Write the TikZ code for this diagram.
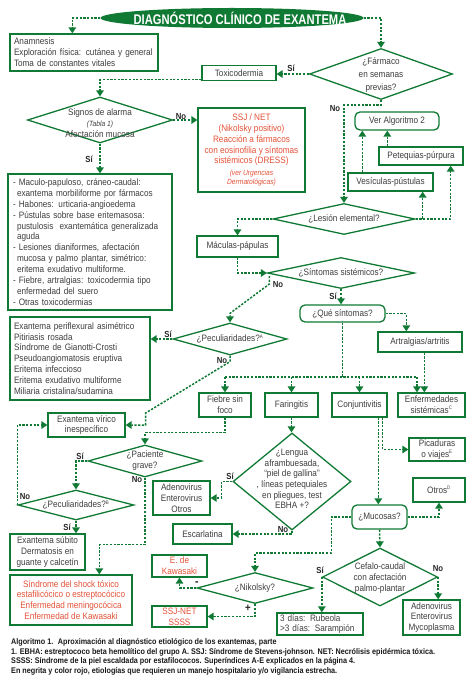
\documentclass[tikz,border=0pt]{standalone}
\usepackage{fontspec}
\setmainfont{Liberation Sans}[FakeStretch=0.88]
\newfontfamily\titlefam{Liberation Sans}[FakeStretch=0.8]
\usetikzlibrary{shapes.geometric,arrows.meta,calc}
\definecolor{G}{RGB}{16,122,52}
\definecolor{T}{RGB}{62,62,62}
\definecolor{R}{RGB}{228,82,56}
\newcommand{\bodyf}{\fontsize{9.3}{10.9}\selectfont}
\newcommand{\smallit}{\itshape\fontsize{7.6}{8.6}\selectfont}
\newcommand{\lblf}{\bfseries\fontsize{8.8}{9}\selectfont}
\newcommand{\sups}[1]{\textsuperscript{\fontsize{5}{5}\selectfont #1}}
\begin{document}
\begin{tikzpicture}[x=1pt,y=-1pt,
  box/.style={draw=G, line width=1.3pt, inner sep=0pt, text=T, align=center, font=\bodyf},
  rbox/.style={box, rounded corners=5pt},
  dia/.style={draw=G, line width=1.3pt, shape=diamond, inner sep=0pt},
  txt/.style={text=T, align=center, font=\bodyf, inner sep=0pt},
  conn/.style={draw=G, line width=1.5pt, dash pattern=on 2.2pt off 1.5pt},
  arr/.style={conn, -{Triangle[length=6pt,width=7.5pt]}},
  lbl/.style={font=\lblf, text=black!85, inner sep=0pt},
]
\fill[white] (0,0) rectangle (474,687);
\useasboundingbox (0,0) rectangle (474,687);

% title
\node[ellipse, fill=G, minimum width=263pt, minimum height=20pt, inner sep=0pt] (title) at (232,18) {};
\node[font=\titlefam\bfseries\fontsize{14}{14}\selectfont, text=white, inner sep=0pt] (titleT) at (240,18.5) {DIAGNÓSTICO CLÍNICO DE EXANTEMA};

% boxes
\node[box, minimum width=148pt, minimum height=37pt, text width=140pt, align=left] (anam) at (84,52.5) {Anamnesis\\Exploración física: cutánea y general\\Toma de constantes vitales};
\node[box, minimum width=74pt, minimum height=15pt] (toxi) at (239,73) {Toxicodermia};
\node[box, text=R, minimum width=107pt, minimum height=84pt] (ssj) at (251.5,150) {SSJ / NET\\(Nikolsky positivo)\\Reacción a fármacos\\con eosinofilia y síntomas\\sistémicos (DRESS)\\[1pt]{\smallit (ver Urgencias}\\[-2pt]{\smallit Dermatológicas)}};
\node[box, minimum width=164pt, minimum height=136pt, text width=154pt, align=left] (list1) at (90,242) {- Maculo-papuloso, cráneo-caudal:\\\hspace*{4pt}exantema morbiliforme por fármacos\\- Habones: urticaria-angioedema\\- Pústulas sobre base eritemasosa:\\\hspace*{4pt}pustulosis~ exantemática generalizada\\\hspace*{4pt}aguda\\- Lesiones dianiformes, afectación\\\hspace*{4pt}mucosa y palmo plantar, simétrico:\\\hspace*{4pt}eritema exudativo multiforme.\\- Fiebre, artralgias: toxicodermia tipo\\\hspace*{4pt}enfermedad del suero\\- Otras toxicodermias};
\node[rbox, minimum width=84pt, minimum height=18pt] (veralg) at (397,121) {Ver Algoritmo 2};
\node[box, minimum width=84pt, minimum height=18pt] (peteq) at (421,156) {Petequias-púrpura};
\node[box, minimum width=85pt, minimum height=18pt] (vesic) at (390.5,182) {Vesículas-pústulas};
\node[box, minimum width=81pt, minimum height=21pt] (macul) at (237.5,246.5) {Máculas-pápulas};
\node[rbox, minimum width=85pt, minimum height=17pt] (que) at (342.5,313.5) {¿Qué síntomas?};
\node[box, minimum width=84pt, minimum height=20pt] (artral) at (420,342) {Artralgias/artritis};
\node[box, minimum width=140pt, minimum height=83pt, text width=132pt, align=left] (list2) at (80,358.5) {Exantema periflexural asimétrico\\Pitiriasis rosada\\Síndrome de Gianotti-Crosti\\Pseudoangiomatosis eruptiva\\Eritema infeccioso\\Eritema exudativo multiforme\\Miliaria cristalina/sudamina};
\node[box, minimum width=52pt, minimum height=24pt] (fiebre) at (225,405) {Fiebre sin\\foco};
\node[box, minimum width=53pt, minimum height=24pt] (faring) at (291.5,405) {Faringitis};
\node[box, minimum width=55pt, minimum height=24pt] (conj) at (359.5,405) {Conjuntivitis};
\node[box, minimum width=67pt, minimum height=24pt] (enferm) at (431.5,405) {Enfermedades\\sistémicas\sups{C}};
\node[box, minimum width=77pt, minimum height=24pt] (exvir) at (86.5,425) {Exantema vírico\\inespecífico};
\node[box, minimum width=75pt, minimum height=36pt] (exsub) at (47.5,552) {Exantema súbito\\Dermatosis en\\guante y calcetín};
\node[box, text=R, minimum width=122pt, minimum height=50pt] (shock) at (71,600) {Síndrome del shock tóxico\\estafilicócico o estreptocócico\\Enfermedad meningocócica\\Enfermedad de Kawasaki};
\node[box, minimum width=57pt, minimum height=34pt] (adeno1) at (181.5,498) {Adenovirus\\Enterovirus\\Otros};
\node[box, minimum width=59pt, minimum height=20pt] (escarl) at (202.5,534) {Escarlatina};
\node[box, minimum width=56pt, minimum height=23pt] (picad) at (437,449.5) {Picaduras\\o viajes\sups{E}};
\node[box, minimum width=52pt, minimum height=24pt] (otros) at (439,490) {Otros\sups{D}};
\node[rbox, minimum width=55pt, minimum height=24pt] (mucosas) at (379.5,517) {¿Mucosas?};
\node[box, text=R, minimum width=55pt, minimum height=22pt] (kawa) at (179.5,566) {E. de\\Kawasaki};
\node[box, text=R, minimum width=55pt, minimum height=21pt] (ssjnet) at (179.5,616.5) {SSJ-NET\\SSSS};
\node[box, minimum width=86pt, minimum height=22pt, text width=80pt, align=left] (rubeola) at (320,624) {3 días: Rubeola\\\textgreater3 días: Sarampión};
\node[box, minimum width=57pt, minimum height=35pt] (adeno2) at (431.5,617.5) {Adenovirus\\Enterovirus\\Mycoplasma};

% diamonds
\node[dia, minimum width=143pt, minimum height=51pt] (farm) at (381,74) {};
\node[txt, font=\fontsize{9.3}{13}\selectfont] (farmT) at (381,75) {¿Fármaco\\en semanas\\previas?};
\node[dia, minimum width=145pt, minimum height=46pt] (signos) at (100,120) {};
\node[txt] (signosT) at (100,123) {Signos de alarma\\{\smallit (Tabla 1)}\\Afectación mucosa};
\node[dia, minimum width=142pt, minimum height=31pt] (lesion) at (344,219) {};
\node[txt] (lesionT) at (344,219) {¿Lesión elemental?};
\node[dia, minimum width=147pt, minimum height=31pt] (sint) at (341,273) {};
\node[txt] (sintT) at (341,273) {¿Síntomas sistémicos?};
\node[dia, minimum width=114pt, minimum height=32pt] (pecA) at (230,339) {};
\node[txt] (pecAT) at (230,339) {¿Peculiaridades?\sups{A}};
\node[dia, minimum width=114pt, minimum height=32pt] (pacg) at (145,461) {};
\node[txt] (pacgT) at (145,461) {¿Paciente\\grave?};
\node[dia, minimum width=116pt, minimum height=30pt] (pecB) at (76,505) {};
\node[txt] (pecBT) at (76,505) {¿Peculiaridades?\sups{B}};
\node[dia, minimum width=118pt, minimum height=97pt] (lengua) at (292,481.5) {};
\node[txt, font=\fontsize{9.3}{10.7}\selectfont] (lenguaT) at (292,479) {¿Lengua\\aframbuesada,\\“piel de gallina”\\, líneas petequiales\\en pliegues, test\\EBHA +?};
\node[dia, minimum width=115pt, minimum height=58pt] (cefalo) at (380,577) {};
\node[txt] (cefaloT) at (380,578) {Cefalo-caudal\\con afectación\\palmo-plantar};
\node[dia, minimum width=116pt, minimum height=31pt] (niko) at (255,588) {};
\node[txt] (nikoT) at (255,588) {¿Nikolsky?};

% connectors
\draw[arr] (title.west) -| ([xshift=63pt]anam.north west);
\draw[arr] (title.east) -| (farm.north);
\draw[arr] (farm.west) -- (farm.west -| toxi.east);
\draw[arr] ([yshift=1.5pt]toxi.south west) -| (signos.north);
\draw[arr] (signos.east) -- (signos.east -| ssj.west);
\draw[arr] (signos.south) -- (signos.south |- list1.north);
\draw[arr] (farm.south) -- ++(0,5) -| (lesion.north);
\draw[arr] (lesion.east) -| ([xshift=-11pt]vesic.south east);
\draw[arr] (lesion.east) -| ([xshift=-13pt]peteq.south east);
\draw[arr] ([xshift=15pt]vesic.north west) -- ([xshift=15pt]vesic.north west |- veralg.south);
\draw[arr] ([xshift=9pt]peteq.north west) -- ([xshift=9pt]peteq.north west |- veralg.south);
\draw[arr] (lesion.west) -| (macul.north);
\draw[arr] (macul.south) |- (sint.west);
\draw[arr] ($(sint.west)+(2.5,3)$) -- ++(0,8) -- ($(pecA.north)+(0,-9)$) -- (pecA.north);
\draw[arr] (sint.south) -- (sint.south |- que.north);
\draw[arr] (que.east) -| ([xshift=29pt]artral.north west);
\coordinate (busL) at (225,377);
\coordinate (busR) at (417,377);
\draw[conn] (que.south) -- (que.south |- busL);
\draw[conn] (busL) -- (busR);
\draw[arr] (busL) -- (fiebre.north);
\draw[arr] (faring.north |- busL) -- (faring.north);
\draw[arr] (conj.north |- busL) -- (conj.north);
\draw[arr] (busR) -- (busR |- enferm.north);
\draw[arr] ([xshift=47pt]artral.south west) -- ([xshift=47pt]artral.south west |- enferm.north);
\draw[arr] (pecA.west) -- (pecA.west -| list2.east);
\draw[arr] (pecA.south) -- ++(0,6) -- ($(exvir.east)+(20,-12)$) -- ($(exvir.east)+(20,0)$) -- (exvir.east);
\draw[arr] (fiebre.south) -- ++(0,15) -| (pacg.north);
\draw[arr] (pacg.west) -| (pecB.north);
\draw[arr] (pecB.west) |- (exvir.west);
\draw[arr] (pecB.south) -- (pecB.south |- exsub.north);
\draw[arr] (pacg.south) -- ++(0,67) -| ([xshift=90pt]shock.north west);
\draw[arr] (faring.south) -- (faring.south |- lengua.north);
\draw[arr] (lengua.west) -- ++(-11,0) |- (adeno1.east);
\draw[arr] (lengua.south) |- (escarl.east);
\draw[arr] ([xshift=47pt]conj.south west) -- ([xshift=47pt]conj.south west |- mucosas.north);
\draw[arr] ([xshift=51pt]conj.south west) |- (picad.west);
\draw[arr] (mucosas.east) -| (otros.south);
\draw[arr] (mucosas.west) -- ++(-20,0) -- ++(0,36) -| (niko.north);
\draw[arr] (mucosas.south) -- (cefalo.north);
\draw[arr] (cefalo.west) -- (cefalo.west |- rubeola.north);
\draw[arr] (cefalo.east) -- (cefalo.east |- adeno2.north);
\draw[arr] (niko.west) -| (kawa.south);
\draw[arr] (niko.south) |- (ssjnet.east);

% labels
\node[lbl] (l1) at (291,68) {Sí};
\node[lbl] (l2) at (181,117) {No};
\node[lbl] (l3) at (89,159) {Sí};
\node[lbl] (l4) at (335,109) {No};
\node[lbl] (l5) at (278,285) {No};
\node[lbl] (l6) at (333,296) {Sí};
\node[lbl] (l7) at (168,334) {Sí};
\node[lbl] (l8) at (222,361) {No};
\node[lbl] (l9) at (80,456) {Sí};
\node[lbl] (l10) at (137,480) {No};
\node[lbl] (l11) at (25,497) {No};
\node[lbl] (l12) at (67,527) {Sí};
\node[lbl] (l13) at (230,476) {Sí};
\node[lbl] (l14) at (283,530) {No};
\node[lbl] (l15) at (320,570) {Sí};
\node[lbl] (l16) at (438,569) {No};
\node[lbl, font=\bfseries\fontsize{12}{12}\selectfont] (l17) at (197,584) {-};
\node[lbl, font=\bfseries\fontsize{11}{11}\selectfont] (l18) at (248,608) {+};

% caption
\node[anchor=west, inner sep=0pt, align=left, font=\bfseries\fontsize{8.2}{9.7}\selectfont, text=black!90] (cap) at (11,657) {Algoritmo 1.~ Aproximación al diagnóstico etiológico de los exantemas, parte\\1. EBHA: estreptococo beta hemolítico del grupo A. SSJ: Síndrome de Stevens-johnson. NET: Necrólisis epidérmica tóxica.\\SSSS: Síndrome de la piel escaldada por estafilococos. Superíndices A-E explicados en la página 4.\\En negrita y color rojo, etiologías que requieren un manejo hospitalario y/o vigilancia estrecha.};
\end{tikzpicture}
\end{document}
